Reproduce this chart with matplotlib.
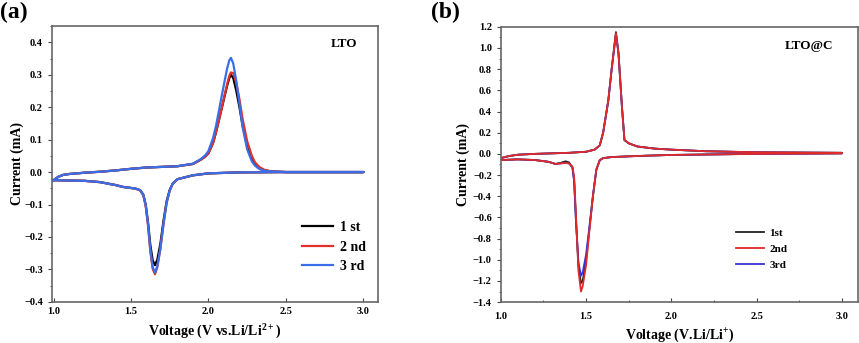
import numpy as np
import matplotlib.pyplot as plt
from matplotlib.ticker import MultipleLocator

plt.rcParams['font.family'] = ['Liberation Serif', 'DejaVu Serif']
plt.rcParams['font.weight'] = 'bold'
plt.rcParams['mathtext.fontset'] = 'custom'
plt.rcParams['mathtext.bf'] = 'Liberation Serif:bold'
plt.rcParams['mathtext.rm'] = 'Liberation Serif'

# ---- panel (a): LTO (upper branch 1->3 V, then lower branch 3->1 V)
lto_v = [1.0, 1.03, 1.06, 1.1, 1.2, 1.3, 1.4, 1.5, 1.6, 1.7, 1.8, 1.9, 1.95, 1.98, 2.0, 2.03,
         2.05, 2.08, 2.1, 2.12, 2.135, 2.145, 2.16, 2.18, 2.2, 2.22, 2.25, 2.28, 2.3, 2.33,
         2.36, 2.4, 2.5, 3.0,
         3.0, 2.5, 2.2, 2.0, 1.9, 1.8, 1.77, 1.75, 1.73, 1.71, 1.69, 1.67, 1.655, 1.64, 1.625,
         1.61, 1.595, 1.58, 1.56, 1.53, 1.5, 1.45, 1.4, 1.3, 1.2, 1.1, 1.0]
lto_1st = [-0.025, -0.015, -0.009, -0.006, -0.002, 0.001, 0.005, 0.010, 0.014, 0.016, 0.018,
           0.025, 0.038, 0.048, 0.058, 0.09, 0.125, 0.185, 0.225, 0.265, 0.29, 0.30, 0.29,
           0.25, 0.20, 0.145, 0.08, 0.04, 0.025, 0.012, 0.006, 0.002, 0.0, 0.0,
           0.0, 0.0, -0.001, -0.004, -0.010, -0.022, -0.035, -0.055, -0.09, -0.15, -0.22,
           -0.27, -0.287, -0.272, -0.225, -0.155, -0.10, -0.07, -0.056, -0.051, -0.049,
           -0.046, -0.040, -0.031, -0.027, -0.026, -0.025]
lto_2nd = [-0.025, -0.015, -0.009, -0.006, -0.002, 0.001, 0.005, 0.010, 0.014, 0.016, 0.018,
           0.025, 0.038, 0.048, 0.058, 0.09, 0.125, 0.185, 0.228, 0.27, 0.297, 0.307, 0.305,
           0.275, 0.225, 0.165, 0.095, 0.05, 0.03, 0.015, 0.007, 0.003, 0.0, 0.0,
           0.0, 0.0, -0.001, -0.004, -0.010, -0.022, -0.035, -0.057, -0.095, -0.16, -0.235,
           -0.293, -0.315, -0.298, -0.245, -0.165, -0.105, -0.072, -0.057, -0.051, -0.049,
           -0.046, -0.040, -0.031, -0.027, -0.026, -0.025]
lto_3rd = [-0.025, -0.015, -0.009, -0.006, -0.002, 0.001, 0.005, 0.010, 0.014, 0.016, 0.018,
           0.026, 0.040, 0.052, 0.065, 0.105, 0.145, 0.22, 0.27, 0.318, 0.345, 0.352, 0.335,
           0.28, 0.21, 0.14, 0.07, 0.033, 0.02, 0.009, 0.004, 0.002, 0.0, 0.0,
           0.0, 0.0, -0.001, -0.004, -0.010, -0.022, -0.035, -0.057, -0.095, -0.16, -0.235,
           -0.29, -0.31, -0.293, -0.24, -0.16, -0.102, -0.071, -0.056, -0.051, -0.049,
           -0.046, -0.040, -0.031, -0.027, -0.026, -0.025]

# ---- panel (b): LTO@C
ltoc_v = [1.0, 1.05, 1.1, 1.2, 1.3, 1.4, 1.5, 1.55, 1.58, 1.6, 1.63, 1.65, 1.675, 1.69,
          1.71, 1.725, 1.75, 1.8, 1.9, 2.0, 2.2, 2.5, 3.0,
          3.0, 2.5, 2.0, 1.8, 1.65, 1.6, 1.58, 1.56, 1.54, 1.52, 1.5, 1.48, 1.47, 1.455,
          1.44, 1.43, 1.42, 1.4, 1.38, 1.35, 1.32, 1.28, 1.2, 1.1, 1.0]
ltoc_1st = [-0.04, -0.02, -0.008, 0.0, 0.005, 0.01, 0.02, 0.04, 0.08, 0.2, 0.5, 0.8, 1.15, 0.95,
            0.45, 0.13, 0.10, 0.07, 0.05, 0.04, 0.025, 0.015, 0.01,
            0.005, 0.0, -0.01, -0.02, -0.03, -0.04, -0.06, -0.15, -0.40, -0.70, -1.00, -1.20,
            -1.22, -1.05, -0.60, -0.25, -0.13, -0.08, -0.07, -0.085, -0.095, -0.075, -0.058,
            -0.052, -0.058]
ltoc_2nd = [-0.04, -0.02, -0.008, 0.0, 0.005, 0.01, 0.02, 0.04, 0.08, 0.2, 0.5, 0.8, 1.14, 0.95,
            0.45, 0.13, 0.10, 0.07, 0.05, 0.04, 0.025, 0.015, 0.01,
            0.005, 0.0, -0.01, -0.02, -0.03, -0.04, -0.06, -0.15, -0.40, -0.72, -1.05, -1.25,
            -1.30, -1.10, -0.55, -0.22, -0.12, -0.09, -0.085, -0.09, -0.095, -0.075, -0.058,
            -0.052, -0.058]
ltoc_3rd = [-0.04, -0.02, -0.008, 0.0, 0.005, 0.01, 0.02, 0.04, 0.08, 0.2, 0.5, 0.8, 1.13, 0.95,
            0.45, 0.13, 0.10, 0.07, 0.05, 0.04, 0.025, 0.015, 0.01,
            0.005, 0.0, -0.01, -0.02, -0.03, -0.04, -0.06, -0.15, -0.40, -0.68, -0.95, -1.12,
            -1.15, -1.02, -0.62, -0.26, -0.13, -0.09, -0.085, -0.09, -0.095, -0.075, -0.058,
            -0.052, -0.058]

cycles_a = ['1 st', '2 nd', '3 rd']
cycles_b = ['1st', '2nd', '3rd']

fig = plt.figure(figsize=(8.59, 3.43), dpi=100)
ax1 = fig.add_axes([0.0605, 0.120, 0.380, 0.804])
ax2 = fig.add_axes([0.583, 0.119, 0.416, 0.803])


def style_axes(ax):
    for s in ax.spines.values():
        s.set_color('#666666')
        s.set_linewidth(1.2)
    ax.tick_params(axis='both', which='major', labelsize=7.5, color='#444444', length=3)
    ax.tick_params(axis='y', which='both', direction='out')
    ax.tick_params(axis='x', which='both', direction='in')
    ax.tick_params(which='minor', length=1.8, color='#444444')
    for lab in ax.get_xticklabels() + ax.get_yticklabels():
        lab.set_fontweight('bold')


# (a)
colors_a = ['black', '#e0302a', '#3a6ee8']
for y, c, lab in zip([lto_1st, lto_2nd, lto_3rd], colors_a, cycles_a):
    ax1.plot(lto_v, y, color=c, lw=1.6, label=lab)
ax1.set_xlim(0.99, 3.097)
ax1.set_ylim(-0.4, 0.45)
ax1.set_xticks([1.0, 1.5, 2.0, 2.5, 3.0])
ax1.set_yticks(np.arange(-0.4, 0.41, 0.1))
ax1.yaxis.set_minor_locator(MultipleLocator(0.05))
style_axes(ax1)
ax1.set_xlabel('Voltage (V vs.Li/Li$^{\\mathbf{2+}}$)', fontsize=10, fontweight='bold', labelpad=4)
ax1.set_ylabel('Current (mA)', fontsize=10, fontweight='bold', labelpad=0)
ax1.text(0.935, 0.935, 'LTO', transform=ax1.transAxes, ha='right', va='center',
         fontsize=9.5, fontweight='bold')
ax1.legend(loc='lower right', frameon=False, handlelength=2.2,
           handletextpad=0.5, labelspacing=0.45, bbox_to_anchor=(1.0, 0.06),
           prop={'weight': 'bold', 'size': 10})
fig.text(0.0, 0.995, '(a)', fontsize=17, fontweight='bold', va='top', ha='left')

# (b)  red is drawn last, it sits on top in the picture
colors_b = {'1st': '#222222', '2nd': '#e02a2a', '3rd': '#3535d8'}
series_b = {'1st': ltoc_1st, '2nd': ltoc_2nd, '3rd': ltoc_3rd}
lines = {}
for lab in ['1st', '3rd', '2nd']:
    lines[lab], = ax2.plot(ltoc_v, series_b[lab], color=colors_b[lab], lw=1.3, label=lab)
ax2.set_xlim(1.0, 3.095)
ax2.set_ylim(-1.4, 1.2)
ax2.set_xticks([1.0, 1.5, 2.0, 2.5, 3.0])
ax2.xaxis.set_minor_locator(MultipleLocator(0.25))
ax2.set_yticks(np.arange(-1.4, 1.21, 0.2))
ax2.yaxis.set_minor_locator(MultipleLocator(0.1))
style_axes(ax2)
ax2.tick_params(axis='x', which='major', pad=7)
ax2.set_xlabel('Voltage (V.Li/Li$^{\\mathbf{+}}$)', fontsize=10, fontweight='bold', labelpad=4)
ax2.set_ylabel('Current (mA)', fontsize=10, fontweight='bold', labelpad=2)
ax2.text(0.93, 0.93, 'LTO@C', transform=ax2.transAxes, ha='right', va='center',
         fontsize=9.5, fontweight='bold')
ax2.legend([lines[k] for k in cycles_b], cycles_b, loc='lower right', frameon=False,
           handlelength=2.5, handletextpad=0.5, labelspacing=0.55, bbox_to_anchor=(0.83, 0.08),
           prop={'weight': 'bold', 'size': 8})
fig.text(0.502, 0.995, '(b)', fontsize=17, fontweight='bold', va='top', ha='left')

fig.savefig('out.png', dpi=100)
